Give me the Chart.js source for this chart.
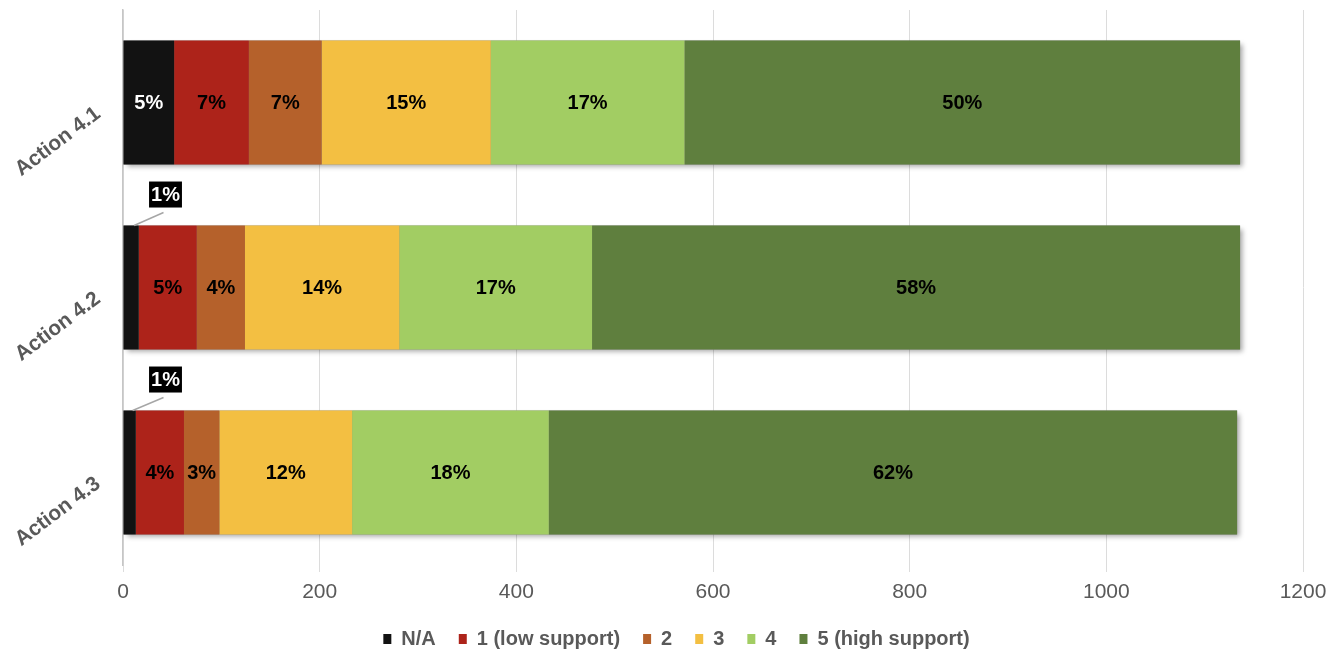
<!DOCTYPE html>
<html>
<head>
<meta charset="utf-8">
<script src="https://cdn.jsdelivr.net/npm/chart.js@4"></script>
<style>
  html, body { margin: 0; padding: 0; background: #fff; }
  #wrap { width: 1338px; height: 652px; }
</style>
</head>
<body>
<div id="wrap"><canvas id="supportChart" width="1338" height="652"></canvas></div>
<script>
// === Data ===
const categories = ['Action 4.1', 'Action 4.2', 'Action 4.3'];
const naValues   = [52, 16, 13];
const lowValues  = [76, 59, 49];
const twoValues  = [74, 49, 36];
const threeValues = [172, 157, 135];
const fourValues = [197, 196, 200];
const highValues = [565, 659, 700];
const xTicks = [0, 200, 400, 600, 800, 1000, 1200];

const FONT = '"Liberation Sans", Arial, Helvetica, sans-serif';

// drop shadow behind each whole stacked bar (drawn before the segments)
const barShadow = {
  id: 'barShadow',
  beforeDatasetsDraw(chart) {
    const c = chart.ctx;
    const metas = chart.data.datasets.map((d, i) => chart.getDatasetMeta(i));
    c.save();
    c.shadowColor = 'rgba(0,0,0,0.35)';
    c.shadowBlur = 5;
    c.shadowOffsetX = 3;
    c.shadowOffsetY = 3;
    c.fillStyle = '#888';
    categories.forEach((cat, i) => {
      const bars = metas.map(m => m.data[i]);
      const left = Math.min(...bars.map(b => Math.min(b.x, b.base)));
      const right = Math.max(...bars.map(b => Math.max(b.x, b.base)));
      const b0 = bars[0];
      c.fillRect(left, b0.y - b0.height / 2, right - left, b0.height);
    });
    c.restore();
  }
};

// percent labels inside each segment, callout box when it doesn't fit
const pctLabels = {
  id: 'pctLabels',
  afterDatasetsDraw(chart) {
    const c = chart.ctx;
    const sets = chart.data.datasets;
    c.save();
    c.font = 'bold 20px ' + FONT;
    c.textAlign = 'center';
    c.textBaseline = 'middle';
    sets.forEach((ds, di) => {
      const meta = chart.getDatasetMeta(di);
      meta.data.forEach((bar, i) => {
        const total = sets.reduce((s, d) => s + d.data[i], 0);
        const text = Math.round(ds.data[i] / total * 100) + '%';
        const left = Math.min(bar.x, bar.base);
        const w = Math.abs(bar.x - bar.base);
        const tw = c.measureText(text).width;
        if (w > tw + 4) {
          c.fillStyle = ds.labelColor;
          c.fillText(text, left + w / 2, bar.y + 1);
        } else {
          const top = bar.y - bar.height / 2;
          const bx = left + 42, by = top - 31;
          c.strokeStyle = '#a6a6a6';
          c.lineWidth = 1.5;
          c.beginPath();
          c.moveTo(left + w / 2 + 3, top);
          c.lineTo(bx - 2, by + 18);
          c.stroke();
          c.fillStyle = '#000';
          c.fillRect(bx - tw / 2 - 2, by - 13, tw + 4, 26);
          c.fillStyle = '#fff';
          c.fillText(text, bx, by + 1);
        }
      });
    });
    c.restore();
  }
};

// legend sits a little right of centre in the original
const legendShift = {
  id: 'legendShift',
  afterLayout(chart) {
    chart.legend.left += 25;
    chart.legend.right += 25;
  }
};

const ctx = document.getElementById('supportChart').getContext('2d');
const supportChart = new Chart(ctx, {
  type: 'bar',
  data: {
    labels: categories,
    datasets: [
      { label: 'N/A', data: naValues, backgroundColor: '#121212', labelColor: '#fff' },
      { label: '1 (low support)', data: lowValues, backgroundColor: '#ad231a', labelColor: '#000' },
      { label: '2', data: twoValues, backgroundColor: '#b5612b', labelColor: '#000' },
      { label: '3', data: threeValues, backgroundColor: '#f3bf42', labelColor: '#000' },
      { label: '4', data: fourValues, backgroundColor: '#a2cd63', labelColor: '#000' },
      { label: '5 (high support)', data: highValues, backgroundColor: '#5f7f3e', labelColor: '#000' }
    ]
  },
  options: {
    indexAxis: 'y',
    responsive: false,
    animation: false,
    devicePixelRatio: 1,
    datasets: {
      bar: { categoryPercentage: 1, barPercentage: 0.67, borderWidth: 0 }
    },
    layout: { padding: { top: 10, right: 35, left: 0, bottom: -7 } },
    plugins: {
      tooltip: { enabled: false },
      legend: {
        position: 'bottom',
        labels: {
          boxWidth: 8,
          boxHeight: 10,
          padding: 23,
          color: '#595959',
          font: { family: FONT, size: 20, weight: 'bold' }
        }
      }
    },
    scales: {
      x: {
        stacked: true,
        min: 0,
        max: 1200,
        afterBuildTicks(scale) {
          scale.ticks = xTicks.map(v => ({ value: v }));
        },
        afterFit(scale) { scale.height = 41; },
        grid: { color: '#dcdcdc', tickLength: 7, drawTicks: true },
        border: { display: false },
        ticks: {
          color: '#595959',
          padding: 8,
          font: { family: FONT, size: 21 },
          callback: v => String(v)
        }
      },
      y: {
        stacked: true,
        afterFit(scale) {
          scale.width = 123;
          scale.paddingTop = 0;
          scale.paddingBottom = 0;
        },
        grid: { display: false, drawTicks: false },
        border: { display: true, color: '#c6c6c6', width: 1.5 },
        ticks: {
          color: '#595959',
          padding: 25,
          minRotation: 37,
          maxRotation: 37,
          labelOffset: 9,
          font: { family: FONT, size: 21, weight: 'bold' }
        }
      }
    }
  },
  plugins: [barShadow, pctLabels, legendShift]
});
</script>
</body>
</html>
